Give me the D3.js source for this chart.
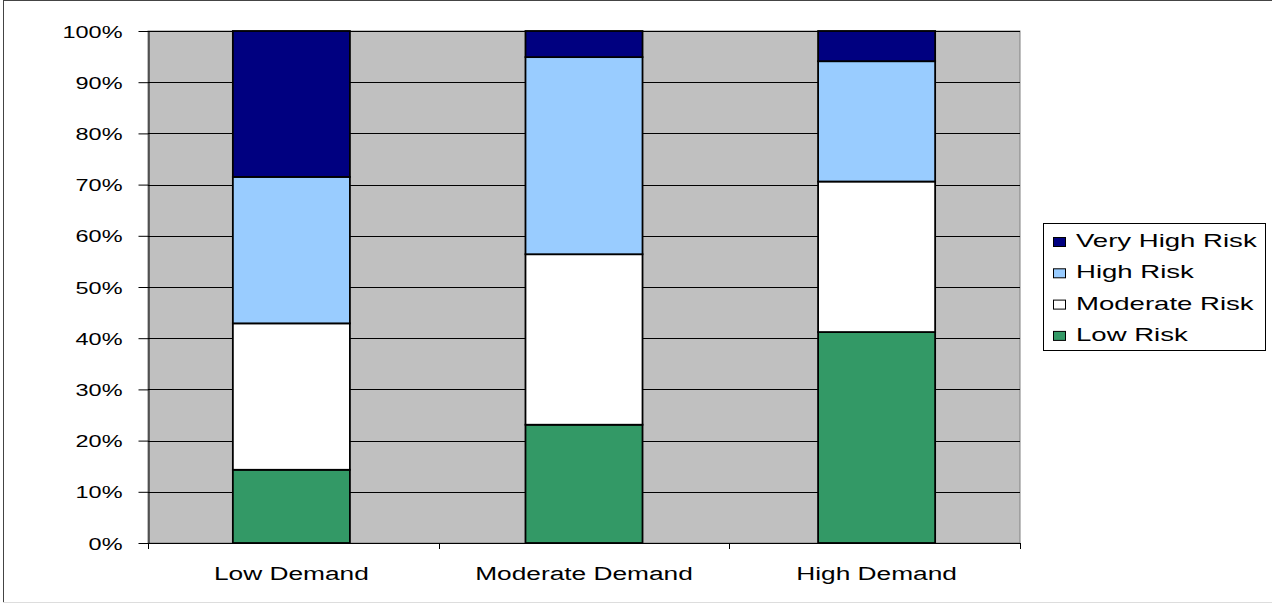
<!DOCTYPE html>
<html><head><meta charset="utf-8">
<script src="https://cdn.jsdelivr.net/npm/d3@7"></script>
<style>html,body{margin:0;padding:0;background:#fff;}svg{display:block;font-family:"Liberation Sans",Arial,sans-serif;}</style>
</head><body>
<svg id="chart" width="1272" height="604"></svg>
<script>
const categories = ["Low Demand", "Moderate Demand", "High Demand"];
const seriesNames = ["Low Risk", "Moderate Risk", "High Risk", "Very High Risk"];
const lowRisk = [14.3, 23.1, 41.2];
const moderateRisk = [28.6, 33.3, 29.4];
const highRisk = [28.6, 38.5, 23.5];
const veryHighRisk = [28.5, 5.1, 5.9];
const tickValues = [0, 10, 20, 30, 40, 50, 60, 70, 80, 90, 100];
const colors = ["#339966", "#FFFFFF", "#99CCFF", "#000080"];

(function () {
const svg = d3.select("#chart");
function fit(stretch) {
  return function (sel) {
    sel.each(function () {
      const w = this.getComputedTextLength();
      this.setAttribute("textLength", w * stretch);
      this.setAttribute("lengthAdjust", "spacingAndGlyphs");
    });
  };
}

// outer border
svg.append("line").attr("x1", 3.5).attr("y1", 0).attr("x2", 3.5).attr("y2", 603).attr("stroke", "#444");
svg.append("line").attr("x1", 3).attr("y1", 0.5).attr("x2", 1272).attr("y2", 0.5).attr("stroke", "#444");
svg.append("line").attr("x1", 3).attr("y1", 602.5).attr("x2", 1272).attr("y2", 602.5).attr("stroke", "#ddd");

const pLeft = 148, pRight = 1020, pTop = 31, pBottom = 543;
const x = d3.scaleBand().domain(categories).range([pLeft, pRight]).paddingInner(0.6).paddingOuter(0.29);
const y = d3.scaleLinear().domain([0, 100]).range([pBottom, pTop]);

// plot background
svg.append("rect").attr("x", pLeft).attr("y", pTop).attr("width", pRight - pLeft).attr("height", pBottom - pTop)
  .attr("fill", "#C0C0C0").attr("stroke", "#808080").attr("stroke-width", 1);

// gridlines
svg.append("g").selectAll("line").data(tickValues.filter(d => d > 0)).join("line")
  .attr("x1", pLeft).attr("x2", pRight)
  .attr("y1", d => Math.round(y(d)) + 0.5).attr("y2", d => Math.round(y(d)) + 0.5)
  .attr("stroke", "#000").attr("stroke-width", 1);

// stacked bars
const table = categories.map((c, i) => ({
  cat: c, "Low Risk": lowRisk[i], "Moderate Risk": moderateRisk[i], "High Risk": highRisk[i], "Very High Risk": veryHighRisk[i]
}));
const stacked = d3.stack().keys(seriesNames)(table);
svg.append("g").selectAll("g").data(stacked).join("g")
  .attr("fill", (d, i) => colors[i])
  .selectAll("rect").data(d => d).join("rect")
  .attr("x", d => x(d.data.cat))
  .attr("width", x.bandwidth())
  .attr("y", d => y(Math.min(100, d[1])))
  .attr("height", d => y(d[0]) - y(Math.min(100, d[1])))
  .attr("stroke", "#000").attr("stroke-width", 1.8);

// y axis
const yAxis = svg.append("g").attr("transform", `translate(${pLeft + 0.5},0)`)
  .call(d3.axisLeft(y).tickValues(tickValues).tickFormat(d => d + "%").tickSize(10).tickSizeOuter(0));
yAxis.attr("font-size", null).attr("font-family", null);
yAxis.select(".domain").attr("stroke", "#000");
yAxis.selectAll(".tick line").attr("stroke", "#000");
yAxis.selectAll(".tick text").style("font-size", "17px").attr("fill", "#000")
  .style("font-family", "Liberation Sans, Arial, sans-serif").attr("x", -26).attr("dy", "0.36em").call(fit(1.38));

// x axis
const xAxisG = svg.append("g");
xAxisG.append("line").attr("x1", pLeft).attr("x2", pRight).attr("y1", pBottom + 0.5).attr("y2", pBottom + 0.5).attr("stroke", "#000");
const boundaries = [0, 1, 2, 3].map(i => pLeft + (pRight - pLeft) * i / 3);
xAxisG.selectAll("line.tk").data(boundaries).join("line").attr("class", "tk")
  .attr("x1", d => Math.round(d) + 0.5).attr("x2", d => Math.round(d) + 0.5)
  .attr("y1", pBottom).attr("y2", pBottom + 6).attr("stroke", "#000");
xAxisG.selectAll("text").data(categories).join("text")
  .attr("x", d => x(d) + x.bandwidth() / 2).attr("y", 580)
  .attr("text-anchor", "middle").style("font-size", "18px").attr("fill", "#000")
  .text(d => d).call(fit(1.46));

// legend
const lg = svg.append("g");
lg.append("rect").attr("x", 1043.5).attr("y", 223.5).attr("width", 222).attr("height", 127)
  .attr("fill", "#fff").attr("stroke", "#000").attr("stroke-width", 1);
const legendOrder = ["Very High Risk", "High Risk", "Moderate Risk", "Low Risk"];
const rows = lg.selectAll("g").data(legendOrder).join("g")
  .attr("transform", (d, i) => `translate(0,${247 + i * 31.3})`);
rows.append("rect").attr("x", 1053.5).attr("y", -9.5).attr("width", 12).attr("height", 9)
  .attr("fill", d => colors[seriesNames.indexOf(d)]).attr("stroke", "#000").attr("stroke-width", 1);
rows.append("text").attr("x", 1076).attr("y", 0).style("font-size", "19px").attr("fill", "#000")
  .text(d => d).call(fit(1.45));
})();
</script>
</body></html>
